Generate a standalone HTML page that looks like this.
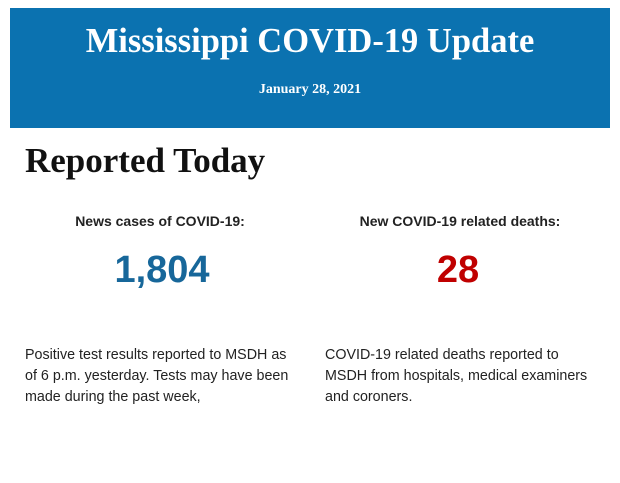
<!DOCTYPE html>
<html><head><style>
body{margin:0;width:620px;height:483px;background:#fff;position:relative;overflow:hidden}
.ban{position:absolute;left:10px;top:8px;width:600px;height:120px;background:#0b72b0}
.t{position:absolute;left:0;width:600px;text-align:center;color:#fff;font-family:"Liberation Serif",serif;font-weight:bold}
.abs{position:absolute}
.lab{font-family:"Liberation Sans",sans-serif;font-weight:bold;font-size:14px;color:#222;text-align:center;width:300px}
.num{font-family:"Liberation Sans",sans-serif;font-weight:bold;font-size:38px;text-align:center;width:300px}
.p{font-family:"Liberation Sans",sans-serif;font-size:14.3px;line-height:21px;color:#222;white-space:nowrap}
</style></head><body>
<div class="ban">
<div class="t" style="top:13px;font-size:34.5px;line-height:40px">Mississippi COVID-19 Update</div>
<div class="t" style="top:73px;font-size:14px;line-height:18px">January 28, 2021</div>
</div>
<div class="abs" style="left:25px;top:141px;font-family:'Liberation Serif',serif;font-weight:bold;font-size:35px;line-height:40px;color:#111">Reported Today</div>
<div class="abs lab" style="left:10px;top:213px">News cases of COVID-19:</div>
<div class="abs lab" style="left:310px;top:213px">New COVID-19 related deaths:</div>
<div class="abs num" style="left:12px;top:249px;color:#17679a">1,804</div>
<div class="abs num" style="left:308px;top:249px;color:#c00000">28</div>
<div class="abs p" style="left:25px;top:345px">Positive test results reported to MSDH as<br>of 6 p.m. yesterday. Tests may have been<br>made during the past week,</div>
<div class="abs p" style="left:325px;top:345px">COVID-19 related deaths reported to<br>MSDH from hospitals, medical examiners<br>and coroners.</div>
</body></html>
